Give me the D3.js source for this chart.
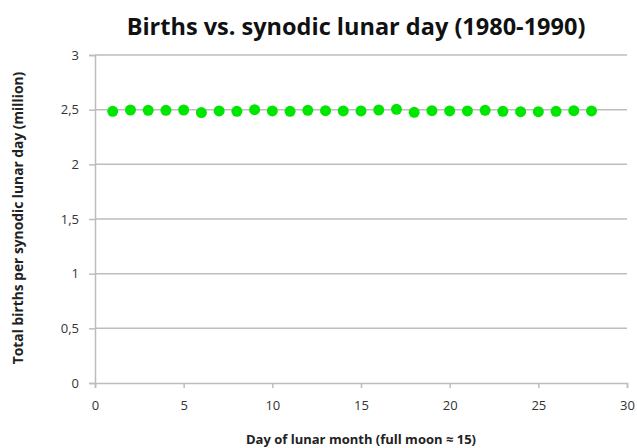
<!DOCTYPE html>
<html>
<head>
<meta charset="utf-8">
<script src="https://cdn.jsdelivr.net/npm/d3@7"></script>
<style>
  body { margin: 0; background: #fff; }
  text { font-family: "Open Sans", "Noto Sans", sans-serif; }
</style>
</head>
<body>
<div id="chart-root"></div>
<script>
// data
var days = d3.range(1, 29);
var births = [2.485, 2.497, 2.494, 2.494, 2.497, 2.473, 2.488, 2.485, 2.500, 2.488,
              2.485, 2.494, 2.491, 2.488, 2.488, 2.497, 2.503, 2.476, 2.491, 2.488,
              2.488, 2.494, 2.485, 2.482, 2.482, 2.485, 2.491, 2.488];
var xTicks = [0, 5, 10, 15, 20, 25, 30];
var yTicks = [0, 0.5, 1, 1.5, 2, 2.5, 3];

var W = 637, H = 448;
var margin = { top: 55, right: 10, bottom: 65, left: 95 };

var svg = d3.select("#chart-root")
    .append("svg")
    .attr("width", W)
    .attr("height", H);

var g = svg.append("g")
    .attr("transform", "translate(" + margin.left + "," + margin.top + ")");

var x = d3.scaleLinear().domain([0, 30]).range([0, 532]);
var y = d3.scaleLinear().domain([0, 3]).range([328, 0]);

// gridlines
g.append("g")
    .selectAll("line")
    .data(yTicks.filter(function(d) { return d > 0; }))
    .enter().append("line")
    .attr("x1", 0)
    .attr("x2", x(30))
    .attr("y1", function(d) { return y(d); })
    .attr("y2", function(d) { return y(d); })
    .style("stroke", "#bdbdbd")
    .style("stroke-width", 1.5);

// y axis
var yAxis = g.append("g")
    .call(d3.axisLeft(y).tickValues(yTicks).tickSize(6).tickPadding(10)
        .tickFormat(function(d) { return String(d).replace(".", ","); }));

// x axis
var xAxis = g.append("g")
    .attr("transform", "translate(0," + y(0) + ")")
    .call(d3.axisBottom(x).tickValues(xTicks).tickSize(5).tickPadding(13));

[yAxis, xAxis].forEach(function(a) {
    a.select(".domain").style("stroke", "#bdbdbd").style("stroke-width", 1.5);
    a.selectAll(".tick line").style("stroke", "#bdbdbd").style("stroke-width", 1.5);
    a.selectAll(".tick text")
        .style("font-size", "13px")
        .style("fill", "#333")
        .style("font-family", "'Open Sans', sans-serif");
});

// points
g.append("g")
    .selectAll("circle")
    .data(days)
    .enter().append("circle")
    .attr("cx", function(d) { return x(d); })
    .attr("cy", function(d, i) { return y(births[i]); })
    .attr("r", 5.5)
    .style("fill", "#00e600");

// title
svg.append("text")
    .attr("x", 356)
    .attr("y", 35)
    .attr("text-anchor", "middle")
    .style("font-size", "23.5px")
    .style("font-weight", "bold")
    .style("fill", "#111")
    .text("Births vs. synodic lunar day (1980-1990)");

// axis labels
svg.append("text")
    .attr("x", 361)
    .attr("y", 444)
    .attr("text-anchor", "middle")
    .style("font-size", "13px")
    .style("font-weight", "bold")
    .style("fill", "#222")
    .text("Day of lunar month (full moon \u2248 15)");

svg.append("text")
    .attr("transform", "translate(23," + 218 + ") rotate(-90)")
    .attr("text-anchor", "middle")
    .style("font-size", "13.8px")
    .style("font-weight", "bold")
    .style("fill", "#222")
    .text("Total births per synodic lunar day (million)");
</script>
</body>
</html>
